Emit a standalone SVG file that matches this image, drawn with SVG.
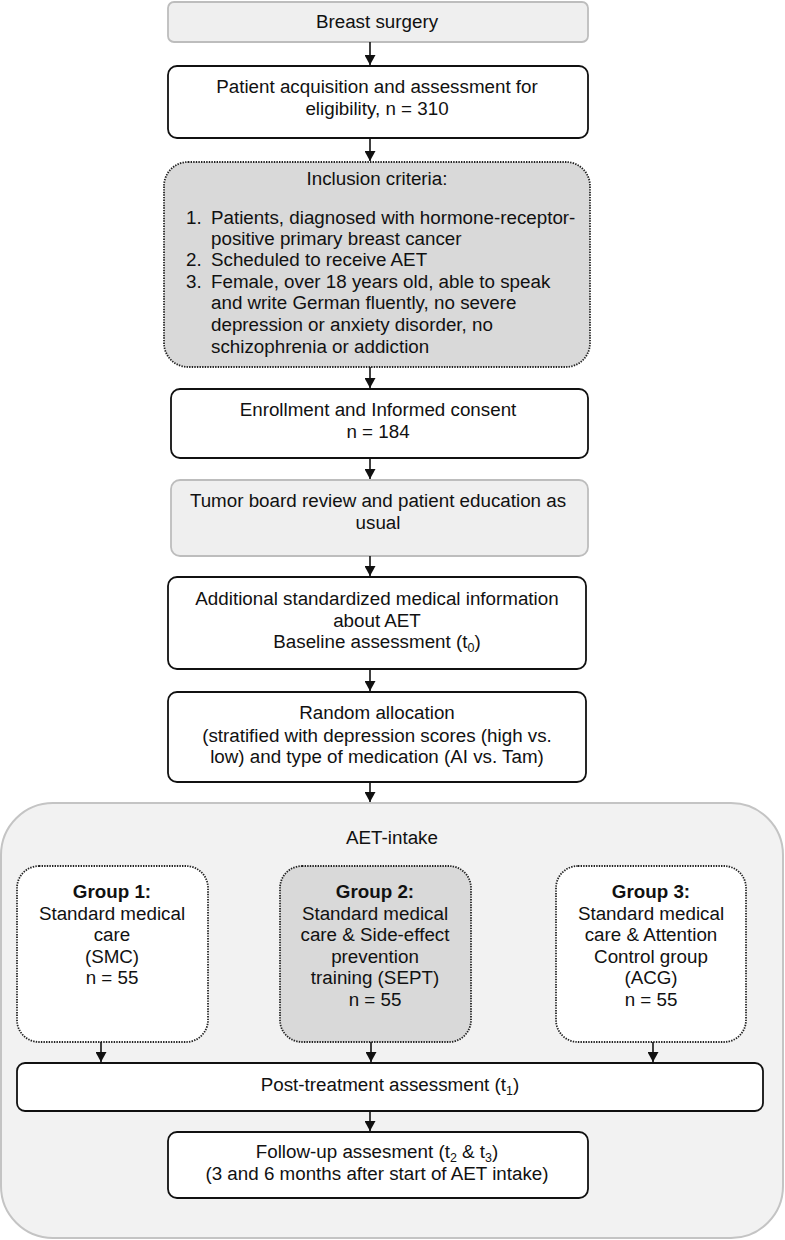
<svg xmlns="http://www.w3.org/2000/svg" width="785" height="1240" viewBox="0 0 785 1240">
<style>
text{font-family:"Liberation Sans",Arial,sans-serif;font-size:18.8px;fill:#111;}
.c{text-anchor:middle;}
.b{font-weight:bold;}
.box{fill:#fff;stroke:#111;stroke-width:1.8;}
.lite{fill:#efefef;stroke:#bdbdbd;stroke-width:1.8;}
.dot{stroke:#222;stroke-width:1.8;stroke-dasharray:1.4 1.2;}
.conn line{stroke:#111;stroke-width:1.6;}
.sub{font-size:12.5px;}
</style>
<defs>
<marker id="ah" viewBox="0 0 10 11" refX="10" refY="5.5" markerWidth="10" markerHeight="11" markerUnits="userSpaceOnUse" orient="auto">
<path d="M0,0 L10,5.5 L0,11 z" fill="#111"/>
</marker>
</defs>

<g id="container">
<rect x="1" y="803" width="782" height="435" rx="52" fill="#f2f2f2" stroke="#c4c4c4" stroke-width="2"/>
<text class="c" x="392" y="844">AET-intake</text>
</g>

<g id="breast-surgery">
<rect class="lite" x="168" y="2" width="420" height="40" rx="6"/>
<text class="c" x="377" y="28">Breast surgery</text>
</g>

<g id="patient-acquisition">
<rect class="box" x="168" y="66" width="420" height="72" rx="9"/>
<text class="c" x="377" y="93">Patient acquisition and assessment for</text>
<text class="c" x="377" y="115">eligibility, n = 310</text>
</g>

<g id="inclusion">
<rect class="dot" fill="#d9d9d9" x="164" y="162" width="426" height="205" rx="24"/>
<text class="c" x="377" y="185">Inclusion criteria:</text>
<text x="186" y="224">1.</text><text x="211" y="224">Patients, diagnosed with hormone-receptor-</text>
<text x="211" y="245">positive primary breast cancer</text>
<text x="186" y="266">2.</text><text x="211" y="266">Scheduled to receive AET</text>
<text x="186" y="288">3.</text><text x="211" y="288">Female, over 18 years old, able to speak</text>
<text x="211" y="309">and write German fluently, no severe</text>
<text x="211" y="331">depression or anxiety disorder, no</text>
<text x="211" y="353">schizophrenia or addiction</text>
</g>

<g id="enrollment">
<rect class="box" x="171" y="389" width="417" height="69" rx="9"/>
<text class="c" x="378" y="416">Enrollment and Informed consent</text>
<text class="c" x="378" y="438">n = 184</text>
</g>

<g id="tumor-board">
<rect class="lite" x="171" y="480" width="417" height="76" rx="9"/>
<text class="c" x="378" y="507">Tumor board review and patient education as</text>
<text class="c" x="378" y="529">usual</text>
</g>

<g id="additional-info">
<rect class="box" x="168" y="577" width="418" height="92" rx="9"/>
<text class="c" x="377" y="605">Additional standardized medical information</text>
<text class="c" x="377" y="627">about AET</text>
<text class="c" x="377" y="648">Baseline assessment (t<tspan class="sub" dy="4">0</tspan><tspan dy="-4">)</tspan></text>
</g>

<g id="random-allocation">
<rect class="box" x="168" y="692" width="418" height="90" rx="9"/>
<text class="c" x="377" y="719">Random allocation</text>
<text class="c" x="377" y="742">(stratified with depression scores (high vs.</text>
<text class="c" x="377" y="763">low) and type of medication (AI vs. Tam)</text>
</g>

<g id="group1">
<rect class="dot" fill="#fff" x="17" y="866" width="191" height="176" rx="22"/>
<text class="c b" x="112" y="898">Group 1:</text>
<text class="c" x="112" y="919.5">Standard medical</text>
<text class="c" x="112" y="941">care</text>
<text class="c" x="112" y="962.5">(SMC)</text>
<text class="c" x="112" y="984">n = 55</text>
</g>

<g id="group2">
<rect class="dot" fill="#d9d9d9" x="280" y="866" width="191" height="176" rx="22"/>
<text class="c b" x="375" y="898">Group 2:</text>
<text class="c" x="375" y="919.5">Standard medical</text>
<text class="c" x="375" y="941">care &amp; Side-effect</text>
<text class="c" x="375" y="962.5">prevention</text>
<text class="c" x="375" y="984">training (SEPT)</text>
<text class="c" x="375" y="1005.5">n = 55</text>
</g>

<g id="group3">
<rect class="dot" fill="#fff" x="556" y="866" width="190" height="176" rx="22"/>
<text class="c b" x="651" y="898">Group 3:</text>
<text class="c" x="651" y="919.5">Standard medical</text>
<text class="c" x="651" y="941">care &amp; Attention</text>
<text class="c" x="651" y="962.5">Control group</text>
<text class="c" x="651" y="984">(ACG)</text>
<text class="c" x="651" y="1005.5">n = 55</text>
</g>

<g id="post-treatment">
<rect class="box" x="17" y="1063" width="746" height="48" rx="8"/>
<text class="c" x="390" y="1091">Post-treatment assessment (t<tspan class="sub" dy="4">1</tspan><tspan dy="-4">)</tspan></text>
</g>

<g id="follow-up">
<rect class="box" x="168" y="1132" width="420" height="66" rx="9"/>
<text class="c" x="377" y="1158">Follow-up assesment (t<tspan class="sub" dy="4">2</tspan><tspan dy="-4"> &amp; t</tspan><tspan class="sub" dy="4">3</tspan><tspan dy="-4">)</tspan></text>
<text class="c" x="377" y="1180">(3 and 6 months after start of AET intake)</text>
</g>

<g id="connectors" class="conn">
<line x1="370" y1="42" x2="370" y2="65" marker-end="url(#ah)"/>
<line x1="370" y1="138" x2="370" y2="161" marker-end="url(#ah)"/>
<line x1="370" y1="367" x2="370" y2="388" marker-end="url(#ah)"/>
<line x1="370" y1="458" x2="370" y2="479" marker-end="url(#ah)"/>
<line x1="370" y1="556" x2="370" y2="576" marker-end="url(#ah)"/>
<line x1="370" y1="669" x2="370" y2="691" marker-end="url(#ah)"/>
<line x1="370" y1="782" x2="370" y2="802" marker-end="url(#ah)"/>
<line x1="101" y1="1042" x2="101" y2="1062" marker-end="url(#ah)"/>
<line x1="371" y1="1042" x2="371" y2="1062" marker-end="url(#ah)"/>
<line x1="653" y1="1042" x2="653" y2="1062" marker-end="url(#ah)"/>
<line x1="370" y1="1111" x2="370" y2="1131" marker-end="url(#ah)"/>
</g>
</svg>
